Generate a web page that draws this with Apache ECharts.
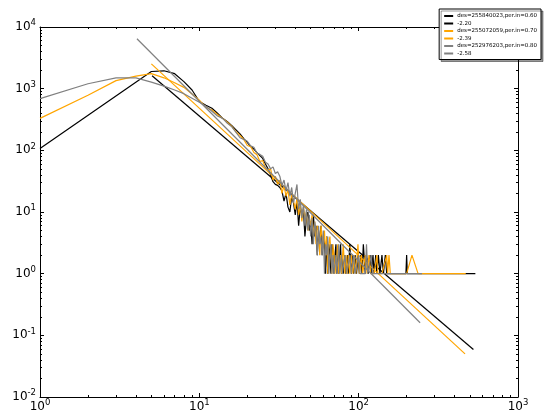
<!DOCTYPE html>
<html>
<head>
<meta charset="utf-8">
<script src="https://cdn.jsdelivr.net/npm/echarts@6/dist/echarts.min.js"></script>
<style>
  html, body { margin: 0; padding: 0; background: #fff; }
  #chart { width: 545px; height: 417px; }
</style>
</head>
<body>
<div id="chart"></div>
<script>
'use strict';
/* degree distribution, log-log, three samples + power-law fits */

// des=255840023, per.in=0.60
var blackX = [1,5,6,7,8,9,10,11,12,13,14,15,16,17,18,19,20,21,22,23,24,25,26,27,28,29,30,31,32,33,34,35,36,37,38,39,40,41,42,43,44,45,46,47,48,49,50,51,52,53,54,55,56,57,58,59,60,61,62,63,64,65,66,67,68,69,70,71,72,73,74,75,76,77,78,79,80,82,83,85,86,88,90,91,93,95,97,99,101,103,105,107,110,112,115,118,120,123,125,128,130,133,136,140,143,147,150,198,200,202,540];
var blackY = [107,1900,1950,1750,1300,950,620,540,480,400,330,290,250,215,185,155,135,115,105,92,82,74,60,50,40,31,28,27,25,22,15,20,12,10,18,14,9,15,6,12,9,11,4,8,10,5,7,3,9,4,6,2,5,3,6,2,4,3,1,4,1,3,2,1,3,2,1,2,3,1,2,1,2,3,1,2,1,2,1,2,1,3,1,2,1,2,1,2,1,2,1,3,1,2,1,2,1,2,1,2,1,2,1,2,1,2,1,1,2,1,1];
var blackFitX = [5.05, 525];
var blackFitY = [1620, 0.059];

// des=255072059, per.in=0.70
var orangeX = [1,2,3,4,5,6,7,8,9,10,11,12,13,14,15,16,17,18,19,20,21,22,23,24,25,26,27,28,29,30,31,32,33,34,35,36,37,38,39,40,41,42,43,44,45,46,47,48,49,50,51,52,53,54,55,56,57,58,59,60,61,62,63,64,65,66,67,68,69,70,71,73,74,75,77,78,80,82,83,85,86,88,90,92,94,96,99,101,104,106,110,113,116,119,125,130,132,140,150,152,155,158,200,216,236,470];
var orangeY = [330,780,1350,1600,1750,1500,1250,1050,820,650,500,450,380,330,285,245,200,175,150,120,115,92,85,66,68,52,48,50,33,38,28,33,20,27,18,23,13,19,15,11,17,9,13,7,12,8,10,5,8,6,9,4,7,3,6,5,2,6,4,3,5,2,4,1,3,4,2,1,3,2,1,2,3,1,2,1,3,1,2,1,2,1,2,1,2,1,3,1,2,1,2,1,2,1,1,2,1,1,2,1,2,1,1,2,1,1];
var orangeFitX = [5.0, 465];
var orangeFitY = [2520, 0.05];

// des=252976203, per.in=0.80
var grayX = [1,2,3,4,5,6,7,8,9,10,11,12,13,14,15,16,17,18,19,20,21,22,23,24,25,26,27,28,29,30,31,32,33,34,35,36,37,38,39,40,41,42,43,44,45,46,47,48,49,50,51,52,53,54,55,56,57,58,59,60,61,62,63,64,65,66,67,68,69,70,72,73,75,76,78,79,82,84,88,90,93,95,100,102,110,112,114,120,122,130,250];
var grayY = [690,1200,1500,1500,1280,1100,950,830,700,600,520,430,360,330,275,240,195,160,150,140,118,112,90,86,80,64,60,50,54,42,45,38,27,33,22,30,18,25,14,20,28,11,16,8,13,6,11,5,9,4,8,3,7,5,2,6,3,4,2,5,1,3,2,4,1,2,3,1,2,1,2,1,3,1,2,1,2,1,2,1,2,1,2,1,1,3,1,2,1,1,1];
var grayFitX = [4.06, 243];
var grayFitY = [6450, 0.16];

var legendNames = ['des=255840023,per.in=0.60', '-2.20', 'des=255072059,per.in=0.70', '-2.39', 'des=252976203,per.in=0.80', '-2.58'];

var xMajor = [1, 10, 100, 1000];
var yMajor = [0.01, 0.1, 1, 10, 100, 1000, 10000];
var minorSteps = [2, 3, 4, 5, 6, 7, 8, 9];

function minorsOf(decades) {
  var out = [];
  for (var i = 0; i < decades.length - 1; i++) {
    for (var j = 0; j < minorSteps.length; j++) {
      out.push(+(decades[i] * minorSteps[j]).toPrecision(6));
    }
  }
  return out;
}

function pairs(xs, ys) {
  var d = [];
  for (var i = 0; i < xs.length; i++) d.push([xs[i], ys[i]]);
  return d;
}

function powLabel(v) {
  var e = Math.round(Math.log(v) / Math.LN10);
  return '{b|10}{s|' + e + '}';
}

var labelRich = {
  b: { fontSize: 12, lineHeight: 17, color: '#000', fontFamily: 'DejaVu Sans' },
  s: { fontSize: 8.5, lineHeight: 9, verticalAlign: 'top', color: '#000', fontFamily: 'DejaVu Sans' }
};

function axis(dir, pos, min, max, ticks, major, showLine) {
  return {
    type: 'log',
    logBase: 10,
    min: min,
    max: max,
    position: pos,
    axisLine: { show: showLine, onZero: false, lineStyle: { color: '#000', width: 1 } },
    axisTick: { show: true, inside: true, length: major ? 4 : 2, customValues: ticks, lineStyle: { color: '#000', width: 1 } },
    axisLabel: {
      show: major && (pos === 'bottom' || pos === 'left'),
      customValues: ticks,
      formatter: powLabel,
      rich: labelRich,
      margin: dir === 'x' ? 1 : 4
    },
    splitLine: { show: false },
    minorTick: { show: false }
  };
}

function lineSeries(name, data, color) {
  return {
    name: name,
    type: 'line',
    data: data,
    showSymbol: false,
    symbol: 'none',
    xAxisIndex: 0,
    yAxisIndex: 0,
    lineStyle: { color: color, width: 1.2 },
    itemStyle: { color: color },
    emphasis: { disabled: true },
    animation: false
  };
}

var xMinor = minorsOf(xMajor);
var yMinor = minorsOf(yMajor);

var chart = echarts.init(document.getElementById('chart'), null, { renderer: 'canvas' });
var option = {
  backgroundColor: '#fff',
  animation: false,
  grid: { left: 40, right: 27, top: 27, bottom: 20, containLabel: false },
  xAxis: [
    axis('x', 'bottom', 1, 1000, xMajor, true, true),
    axis('x', 'bottom', 1, 1000, xMinor, false, false),
    axis('x', 'top', 1, 1000, xMajor, true, true),
    axis('x', 'top', 1, 1000, xMinor, false, false)
  ],
  yAxis: [
    axis('y', 'left', 0.01, 10000, yMajor, true, true),
    axis('y', 'left', 0.01, 10000, yMinor, false, false),
    axis('y', 'right', 0.01, 10000, yMajor, true, true),
    axis('y', 'right', 0.01, 10000, yMinor, false, false)
  ],
  legend: {
    orient: 'vertical',
    right: 4,
    top: 9,
    padding: [4, 4, 3, 5],
    itemGap: 1.5,
    itemWidth: 9,
    itemHeight: 2,
    icon: 'rect',
    backgroundColor: '#fff',
    borderColor: '#000',
    borderWidth: 1,
    borderRadius: 0,
    shadowColor: 'rgba(0,0,0,0.4)',
    shadowBlur: 0,
    shadowOffsetX: 2,
    shadowOffsetY: 2,
    textStyle: { fontSize: 5.5, lineHeight: 6, color: '#000', fontFamily: 'DejaVu Sans', padding: [0, 0, 0, -1] },
    data: legendNames
  },
  series: [
    lineSeries(legendNames[0], pairs(blackX, blackY), '#000000'),
    lineSeries(legendNames[1], pairs(blackFitX, blackFitY), '#000000'),
    lineSeries(legendNames[2], pairs(orangeX, orangeY), '#ffa500'),
    lineSeries(legendNames[3], pairs(orangeFitX, orangeFitY), '#ffa500'),
    lineSeries(legendNames[4], pairs(grayX, grayY), '#808080'),
    lineSeries(legendNames[5], pairs(grayFitX, grayFitY), '#808080')
  ]
};
chart.setOption(option);
</script>
</body>
</html>
